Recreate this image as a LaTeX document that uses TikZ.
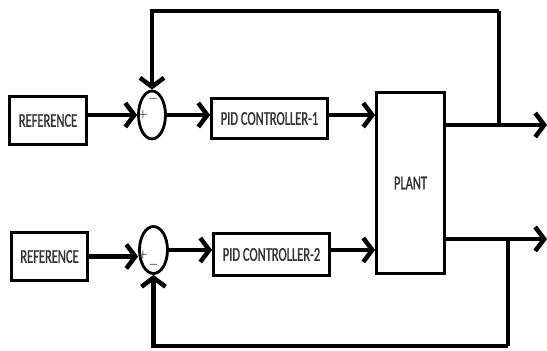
\documentclass[tikz,border=0pt]{standalone}
\usepackage{fontspec}
\setmainfont{Carlito}[FakeStretch=0.64,FakeBold=1.2]
\usetikzlibrary{arrows.meta,shapes.geometric}

\begin{document}
\begin{tikzpicture}[x=1pt,y=-1pt,
  blk/.style={draw,line width=2.8pt,inner sep=0pt,text=black!80,
    font=\fontsize{19.5}{21}\selectfont},
  sumnode/.style={draw,ellipse,line width=2.8pt,inner sep=0pt},
  sgn/.style={inner sep=0pt,text=black!85,font=\fontsize{11}{11}\selectfont\boldmath},
  flow/.style={line width=4.5pt,-{Straight Barb[length=9pt,width=24pt]}},
  fb/.style={line width=4pt}]

\useasboundingbox (0,0) rectangle (547,351);

\node[blk,minimum width=77pt,minimum height=48pt] (ref_one) at (48,120.5) {REFERENCE};
\node[sumnode,minimum width=27pt,minimum height=48pt] (sum_one) at (152,115) {};
\node[blk,minimum width=116pt,minimum height=40pt] (pid_one) at (269.5,118.5) {PID CONTROLLER-1};

\node[blk,minimum width=68pt,minimum height=181pt] (plant) at (410.5,183) {PLANT};

\node[blk,minimum width=76pt,minimum height=48pt] (ref_two) at (49.5,256.5) {REFERENCE};
\node[sumnode,minimum width=28pt,minimum height=47pt] (sum_two) at (153.5,250) {};
\node[blk,minimum width=116pt,minimum height=42pt] (pid_two) at (271.5,254.5) {PID CONTROLLER-2};

\node[sgn] (plus_one) at ([xshift=-9pt]sum_one.center) {$+$};
\node[sgn] (minus_one) at ([xshift=1pt,yshift=16pt]sum_one.center) {$-$};
\node[sgn] (plus_two) at ([xshift=-10.5pt,yshift=-5pt]sum_two.center) {$+$};
\node[sgn] (minus_two) at ([yshift=-15pt]sum_two.center) {$-$};

\coordinate (out_one) at (547,125) ;
\coordinate (tap_one) at (499,125) ;
\coordinate (top_one) at (499,11) ;
\coordinate (out_two) at (547,239) ;
\coordinate (tap_two) at (508,239) ;
\coordinate (bot_two) at (508,346) ;

\draw[flow] (ref_one.east |- sum_one.west) -- (sum_one.west) ;
\draw[flow] (sum_one.east) -- (sum_one.east -| pid_one.west) ;
\draw[flow] (pid_one.east |- sum_one.center) -- (plant.west |- sum_one.center) ;
\draw[flow] (plant.east |- out_one) -- (out_one) ;
\draw[fb] (tap_one) -- (top_one) ;
\draw[flow] (top_one) -| (sum_one.north) ;

\draw[flow] (ref_two.east) -- (ref_two.east -| sum_two.west) ;
\draw[flow] (sum_two.east) -- (sum_two.east -| pid_two.west) ;
\draw[flow] (pid_two.east |- sum_two.center) -- (plant.west |- sum_two.center) ;
\draw[flow] (plant.east |- out_two) -- (out_two) ;
\draw[fb] (tap_two) -- (bot_two) ;
\draw[flow] (bot_two) -| (sum_two.south) ;

\end{tikzpicture}
\end{document}
